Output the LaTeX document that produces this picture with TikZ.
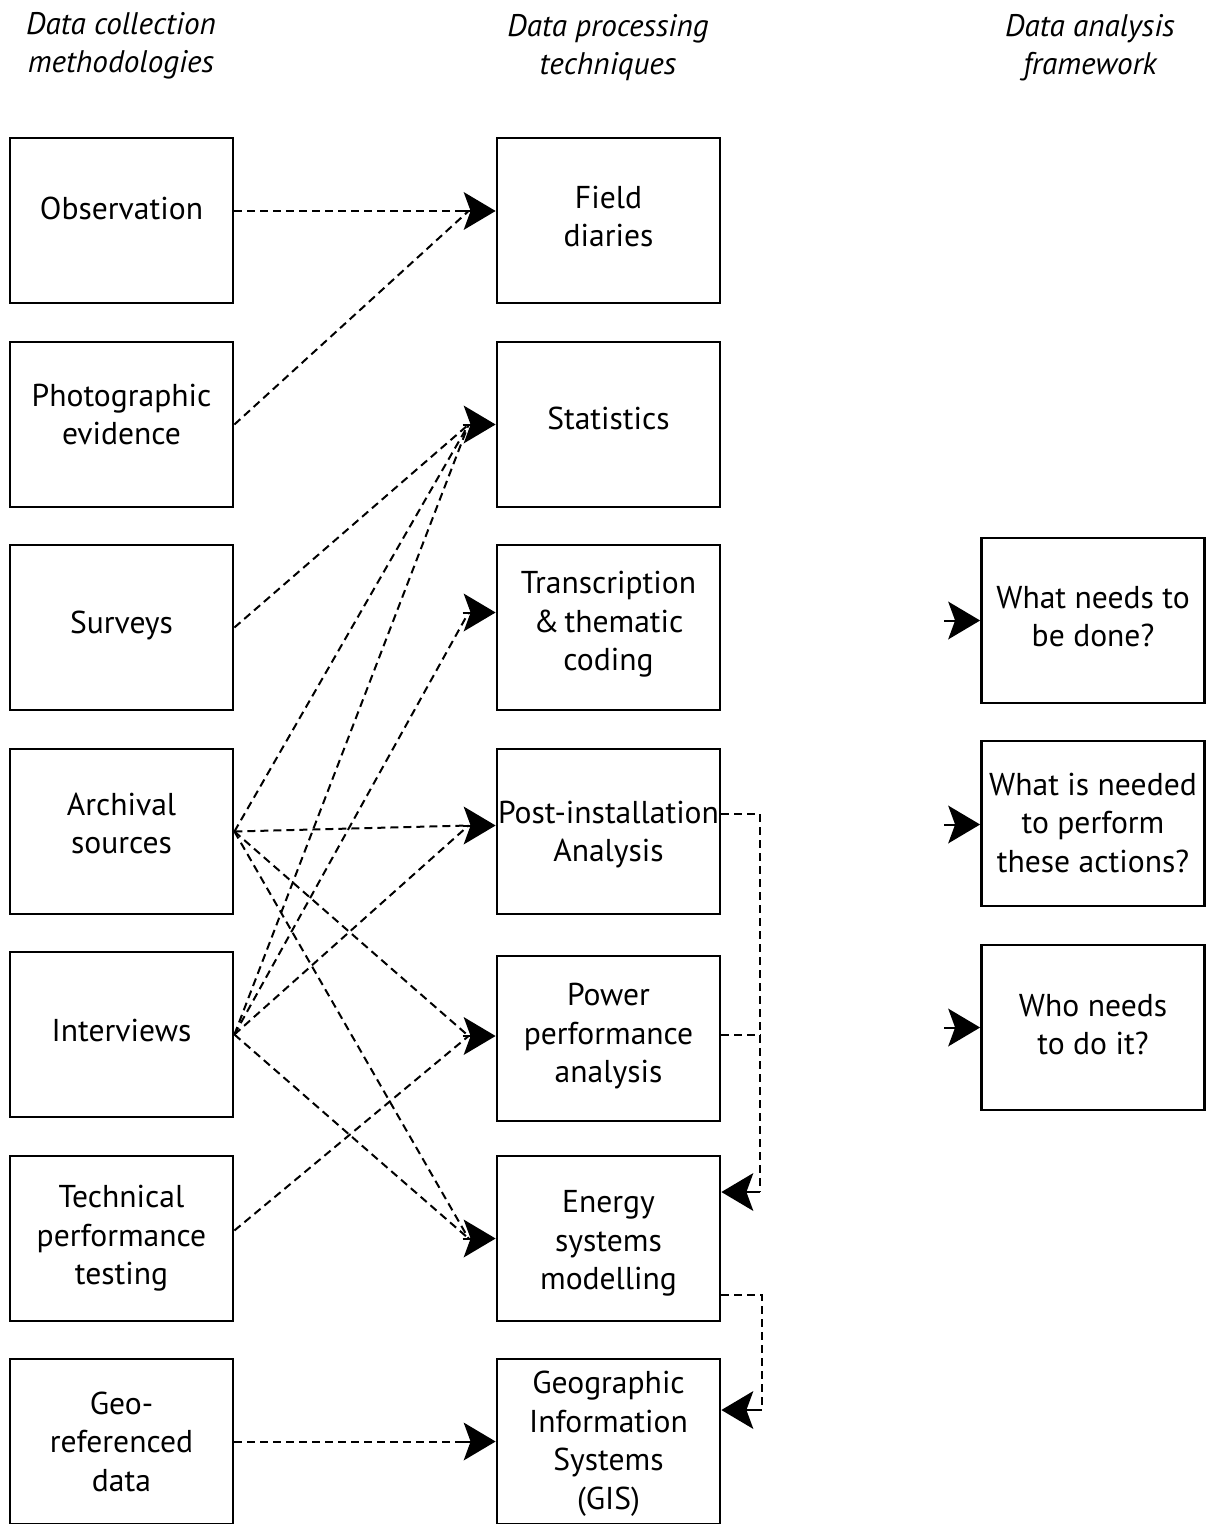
\documentclass[tikz,border=0pt]{standalone}
\usepackage{fontspec}
\setmainfont{PT Sans}
\usetikzlibrary{arrows.meta,calc}
\begin{document}
\begin{tikzpicture}[x=0.5pt,y=-0.5pt,
  box/.style={draw,line width=1.4pt,minimum width=111.5pt,minimum height=82.5pt,inner sep=0pt},
  lbl/.style={align=center,inner sep=0pt,font=\fontsize{15.8}{19.25}\selectfont},
  head/.style={align=center,font=\itshape\fontsize{15.6}{19}\selectfont},
  tip/.style={-{Stealth[length=16pt,width=19pt,inset=3.5pt,line width=0pt]}},
  link/.style={dash pattern=on 4pt off 2.5pt,line width=1pt},
  arrowhead/.style={line width=1pt,tip},
  elbow/.style={link}]
\useasboundingbox (0,0) rectangle (1207,1524);
\clip (0,0) rectangle (1207,1524);

% column headings
\node[head] (h1) at (121,46) {Data collection\\methodologies};
\node[head] (h2) at (608,48) {Data processing\\techniques};
\node[head] (h3) at (1090,48) {Data analysis\\framework};

% data collection methodologies
\node[box] (obs)  at (121.5,220.5)  {};
\node[box] (pho)  at (121.5,424.5)  {};
\node[box] (sur)  at (121.5,627.5)  {};
\node[box] (arc)  at (121.5,831.5)  {};
\node[box] (int)  at (121.5,1034.5) {};
\node[box] (tec)  at (121.5,1238.5) {};
\node[box] (geo)  at (121.5,1441.5) {};
\node[lbl] (obs-t) at ($(obs)+(0,-12)$) {Observation};
\node[lbl] (pho-t) at ($(pho)+(0,-10)$) {Photographic\\evidence};
\node[lbl] (sur-t) at ($(sur)+(0,-2)$)  {Surveys};
\node[lbl] (arc-t) at ($(arc)+(0,-8)$)  {Archival\\sources};
\node[lbl] (int-t) at ($(int)+(0,-4)$)  {Interviews};
\node[lbl] (tec-t) at (tec)             {Technical\\performance\\testing};
\node[lbl] (geo-t) at (geo)             {Geo-\\referenced\\data};

% data processing techniques
\node[box] (fd)   at (608.5,220.5)  {};
\node[box] (sta)  at (608.5,424.5)  {};
\node[box] (tra)  at (608.5,627.5)  {};
\node[box] (pia)  at (608.5,831.5)  {};
\node[box] (ppa)  at (608.5,1038.5) {};
\node[box] (esm)  at (608.5,1238.5) {};
\node[box] (gis)  at (608.5,1441.5) {};
\node[lbl] (fd-t)  at ($(fd)+(0,-4)$)  {Field\\diaries};
\node[lbl] (sta-t) at ($(sta)+(0,-6)$) {Statistics};
\node[lbl] (tra-t) at ($(tra)+(0,-3)$) {Transcription\\\&\,thematic\\coding};
\node[lbl] (pia-t) at ($(pia)+(0,3)$)  {Post-installation\\Analysis};
\node[lbl] (ppa-t) at ($(ppa)+(0,-2)$) {Power\\performance\\analysis};
\node[lbl] (esm-t) at ($(esm)+(0,5)$)  {Energy\\systems\\modelling};
\node[lbl] (gis-t) at ($(gis)+(0,2)$)  {Geographic\\Information\\Systems\\(GIS)};

% data analysis framework
\node[box] (q1)   at (1093,620.5)  {};
\node[box] (q2)   at (1093,823.5)  {};
\node[box] (q3)   at (1093,1027.5) {};
\node[lbl] (q1-t) at ($(q1)+(0,-4)$) {What needs to\\be done?};
\node[lbl] (q2-t) at ($(q2)+(0,-1)$) {What is needed\\to perform\\these actions?};
\node[lbl] (q3-t) at ($(q3)+(0,-3)$) {Who needs\\to do it?};

% entry points on the processing boxes (tip) and where the lines meet (notch)
\coordinate (fd-in)  at ($(fd.west)+(0,-9.5)$);
\coordinate (sta-in) at (sta.west);
\coordinate (tra-in) at ($(tra.west)+(0,-15)$);
\coordinate (pia-in) at ($(pia.west)+(0,-6)$);
\coordinate (ppa-in) at ($(ppa.west)+(0,-2.5)$);
\coordinate (esm-in) at (esm.west);
\coordinate (gis-in) at (gis.west);
\foreach \t in {fd,sta,tra,pia,ppa,esm,gis}{
  \coordinate (\t-n) at ($(\t-in)+(-27,0)$);
  \draw[arrowhead] ($(\t-in)+(-33,0)$) -- (\t-in);
}

% collection -> processing
\draw[link] ($(obs.east)+(0,-9.5)$) -- (fd-n);
\draw[link] (pho.east) -- (fd-n);
\draw[link] (sur.east) -- (sta-n);
\draw[link] (arc.east) -- (sta-n);
\draw[link] (arc.east) -- (pia-n);
\draw[link] (arc.east) -- (ppa-n);
\draw[link] (arc.east) -- (esm-n);
\draw[link] (int.east) -- (sta-n);
\draw[link] (int.east) -- (tra-n);
\draw[link] (int.east) -- (pia-n);
\draw[link] (int.east) -- (esm-n);
\draw[link] ($(tec.east)+(0,-8)$) -- (ppa-n);
\draw[link] (geo.east) -- (gis-n);

% processing -> processing
\coordinate (j1) at (760,1192);
\draw[elbow] ($(pia.east)+(0,-17.5)$) -| (j1);
\draw[elbow] ($(ppa.east)+(0,-3.5)$) -- ($(ppa.east)+(40,-3.5)$);
\draw[elbow] (j1) -- ($(j1)+(-12,0)$);
\draw[arrowhead] ($(j1)+(-4,0)$) -- (j1 -| esm.east);
\coordinate (j2) at (762,1410);
\draw[elbow] ($(esm.east)+(0,56.5)$) -| (j2);
\draw[elbow] (j2) -- ($(j2)+(-12,0)$);
\draw[arrowhead] ($(j2)+(-4,0)$) -- (j2 -| gis.east);

% entry arrows of the framework
\coordinate (e1) at (944,620.5);
\coordinate (e2) at (944,824.5);
\coordinate (e3) at (944,1027.5);
\draw[arrowhead] (e1) -- (q1.west);
\draw[arrowhead] (e2) -- (e2 -| q2.west);
\draw[arrowhead] (e3) -- (q3.west);
\end{tikzpicture}
\end{document}
